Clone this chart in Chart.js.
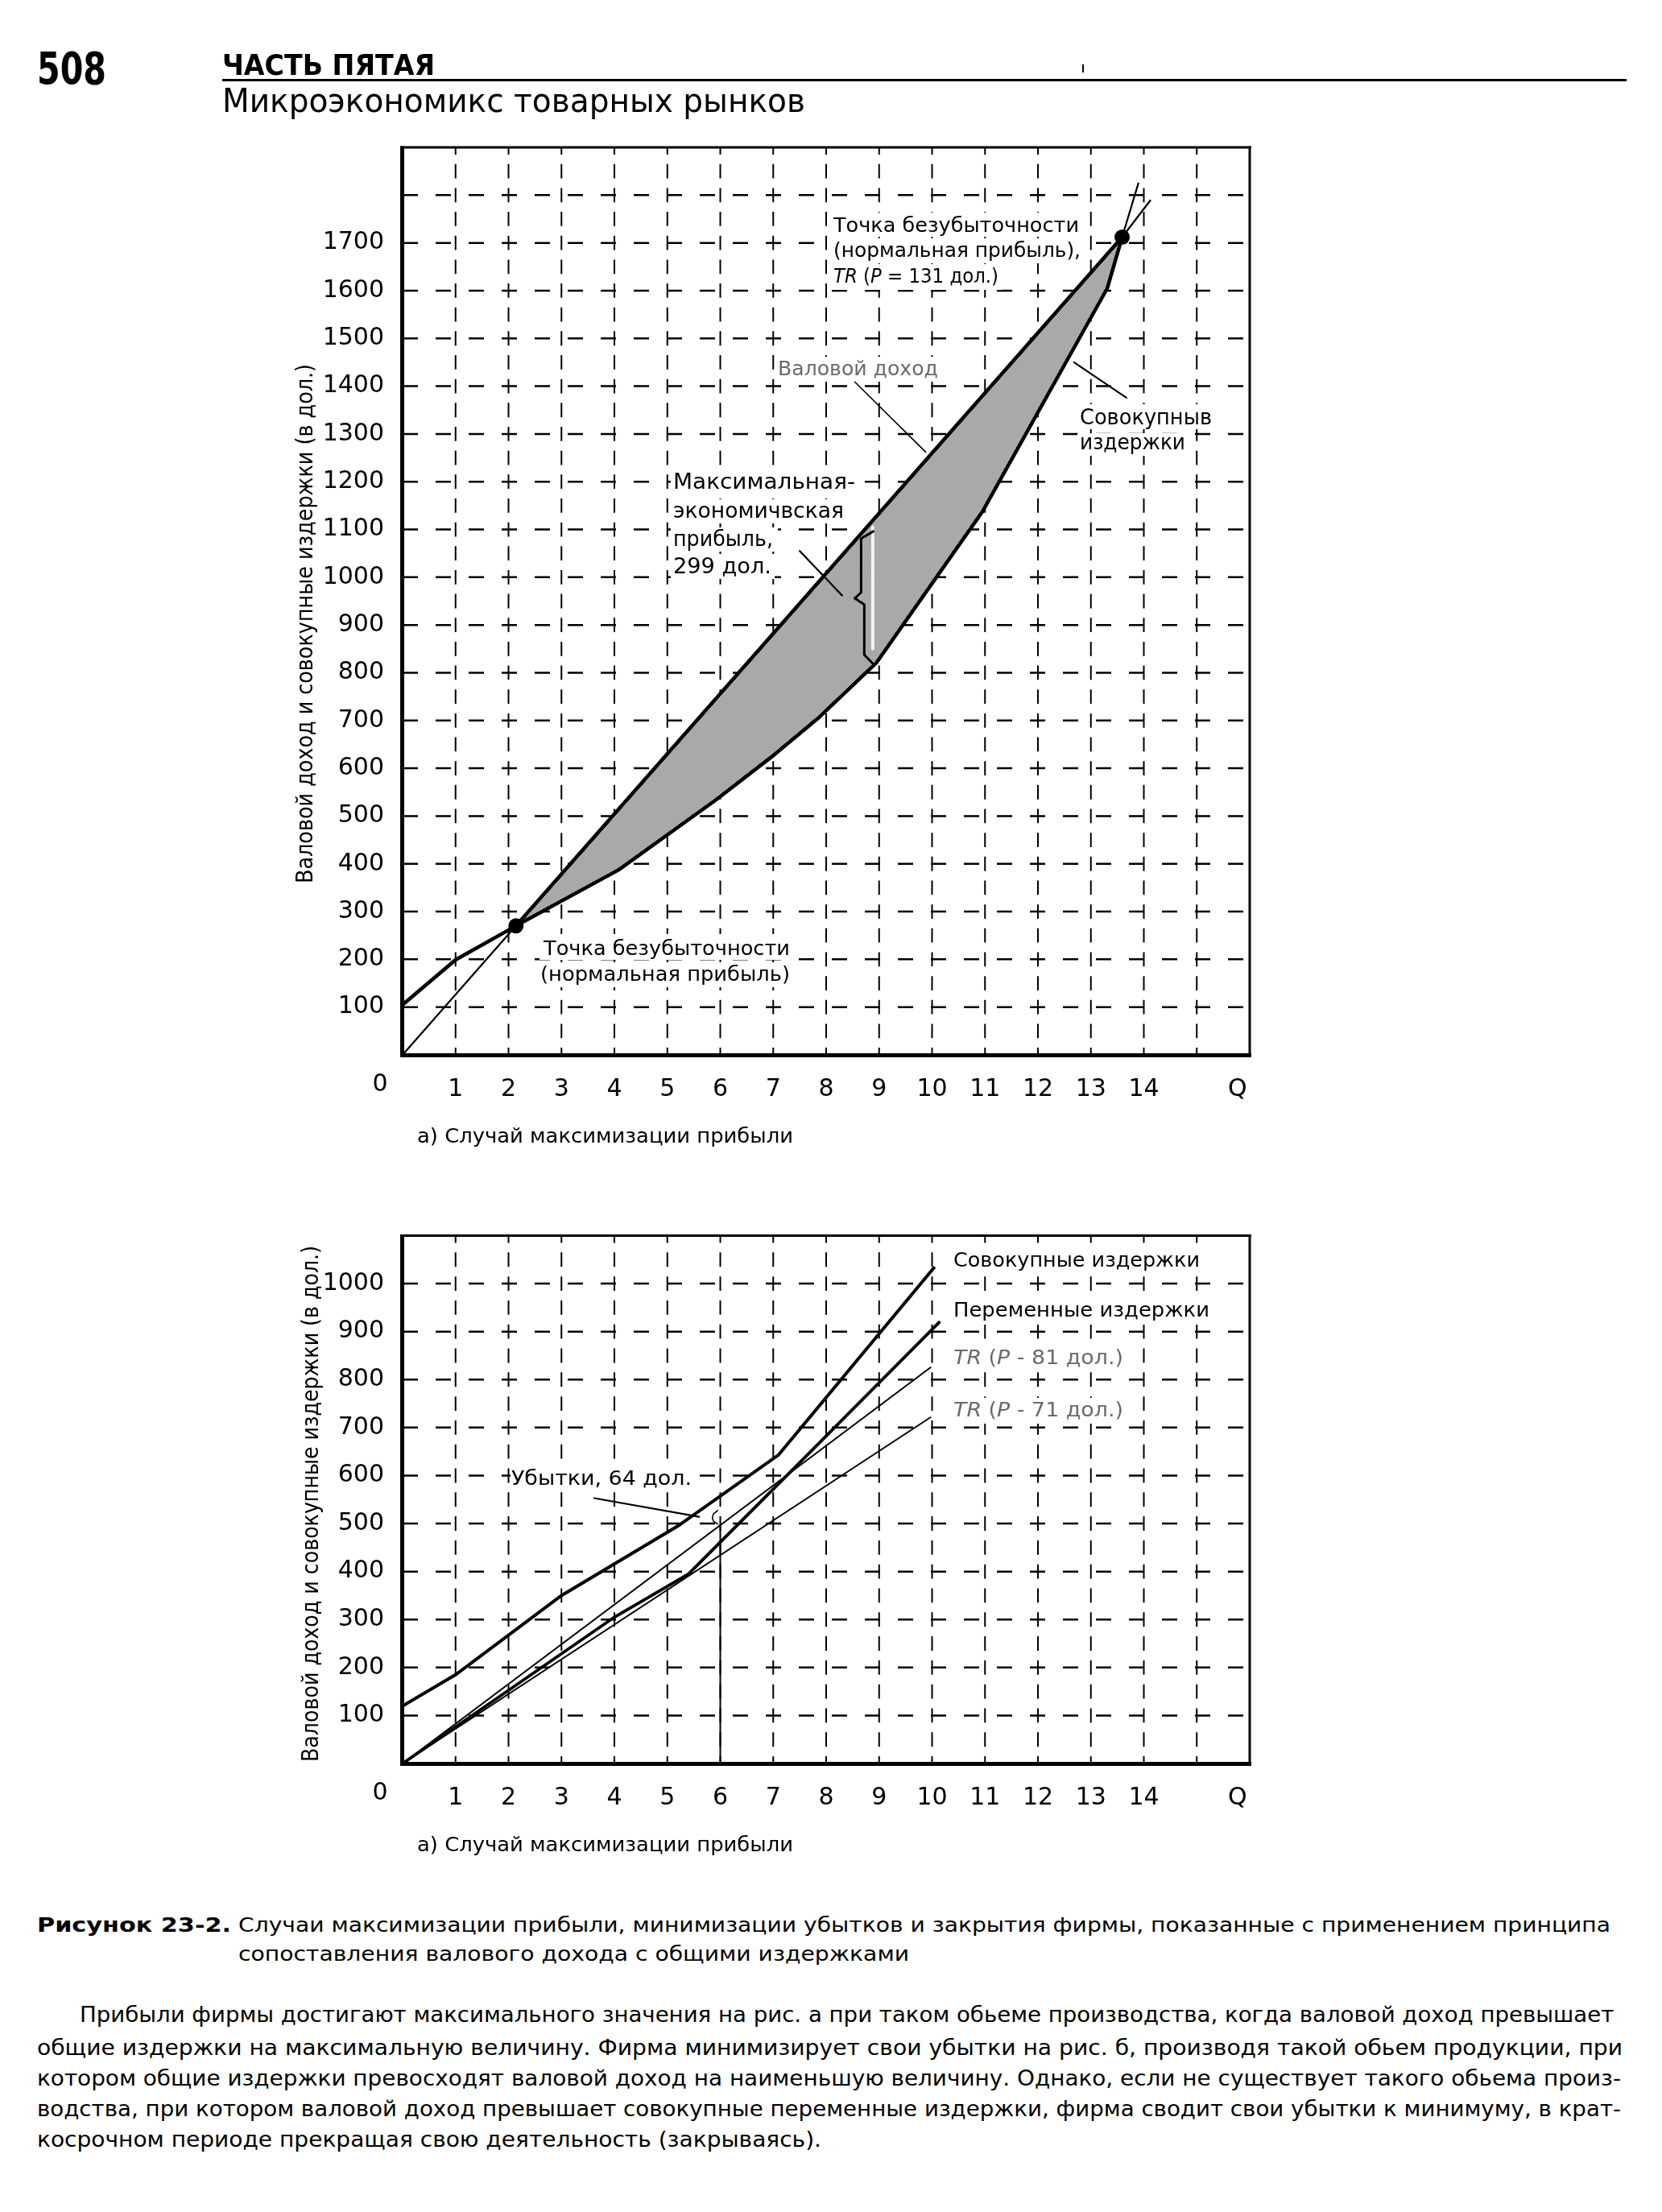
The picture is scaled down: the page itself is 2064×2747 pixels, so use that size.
<!DOCTYPE html>
<html><head><meta charset="utf-8">
<script src="https://cdn.jsdelivr.net/npm/chart.js@4.4.1/dist/chart.umd.min.js"></script>
<style>
html,body{margin:0;padding:0;background:#fff;}
body{width:2064px;height:2747px;position:relative;overflow:hidden;font-family:"DejaVu Sans",sans-serif;color:#000;}
canvas{position:absolute;left:0;}
.t{position:absolute;white-space:nowrap;transform-origin:0 0;margin:0;padding:0;}
.rule{position:absolute;background:#000;}
</style></head><body>
<canvas id="c1" width="2064" height="1460" style="top:0px;width:2064px;height:1460px"></canvas>
<canvas id="c2" width="2064" height="900" style="top:1460px;width:2064px;height:900px"></canvas>
<div class="rule" style="left:276px;top:98px;width:1744px;height:3px"></div>
<div class="rule" style="left:1344px;top:80px;width:2px;height:10px"></div>
<script>
// ---------- DATA ----------
const xTickPos    = [1,2,3,4,5,6,7,8,9,10,11,12,13,14,15.77];
const xTickLabels = ['1','2','3','4','5','6','7','8','9','10','11','12','13','14','Q'];
const gridQ       = [1,2,3,4,5,6,7,8,9,10,11,12,13,14,15];
const topYTicks   = [100,200,300,400,500,600,700,800,900,1000,1100,1200,1300,1400,1500,1600,1700];
const topGridV    = [100,200,300,400,500,600,700,800,900,1000,1100,1200,1300,1400,1500,1600,1700,1800];
const botYTicks   = [100,200,300,400,500,600,700,800,900,1000];
const botGridV    = [100,200,300,400,500,600,700,800,900,1000];

// panel a: total revenue (P = 131) and total cost
const trQ = [0, 2.14, 13.59, 14.13];
const trV = [0, 270, 1712, 1790];
const tcQ = [0, 1, 2.14, 4.09, 5.92, 6.97, 7.85, 8.95, 10.95, 13.31, 13.59, 13.9];
const tcV = [105, 199, 270, 388, 534, 624, 705, 821, 1137, 1605, 1712, 1826];
const breakEvenQ = [2.14, 13.59];
const breakEvenV = [270, 1712];

// panel b
const tc2Q  = [0, 1, 3, 5.2, 7.1, 10.05];
const tc2V  = [120, 185, 350, 495, 643, 1035];
const vcQ   = [0, 4, 5.4, 7.5, 10.15];
const vcV   = [0, 305, 395, 627, 921];
const tr81Q = [0, 9.98];
const tr81V = [0, 826];
const tr71Q = [0, 9.98];
const tr71V = [0, 722];
const lossQ = [6, 6];
const lossV = [0, 497];

// ---------- helpers ----------
const P = (qs, vs) => qs.map((q, i) => ({x: q, y: vs[i]}));
const FAM = '"DejaVu Sans"';
const mc = document.createElement('canvas').getContext('2d');

function placeText(o){
  const el = document.createElement('div');
  el.className = 't';
  el.textContent = o.text;
  const font = (o.bold ? 'bold ' : '') + o.size + 'px ' + FAM;
  el.style.font = font;
  el.style.lineHeight = o.size + 'px';
  mc.font = font;
  const m = mc.measureText(o.text);
  const A = m.fontBoundingBoxAscent, D = m.fontBoundingBoxDescent;
  const off = (o.size - (A + D)) / 2 + A;
  el.style.left = o.x + 'px';
  el.style.top = (o.base - off) + 'px';
  const k = o.w ? o.w / m.width : 1;
  el.style.transform = 'scaleX(' + k + ')';
  document.body.appendChild(el);
}

function fitRuns(ctx, runs, x, base, w, size, color, bold){
  let total = 0;
  const parts = runs.map(r => {
    const f = (r[1] ? 'italic ' : '') + (bold ? 'bold ' : '') + size + 'px ' + FAM;
    ctx.font = f;
    const wd = ctx.measureText(r[0]).width;
    total += wd;
    return {t: r[0], f, wd};
  });
  const k = w ? w / total : 1;
  ctx.save();
  ctx.translate(x, base);
  ctx.scale(k, 1);
  ctx.fillStyle = color || '#000';
  ctx.textBaseline = 'alphabetic';
  ctx.textAlign = 'left';
  let cx = 0;
  for (const p of parts){ ctx.font = p.f; ctx.fillText(p.t, cx, 0); cx += p.wd; }
  ctx.restore();
}

function vertTitle(ctx, text, cx, cy, len, size){
  ctx.save();
  ctx.font = size + 'px ' + FAM;
  const w = ctx.measureText(text).width;
  const cap = size * 0.73;
  ctx.translate(cx + cap / 2, cy);
  ctx.rotate(-Math.PI / 2);
  ctx.scale(len / w, 1);
  ctx.fillStyle = '#000';
  ctx.textAlign = 'center';
  ctx.textBaseline = 'alphabetic';
  ctx.fillText(text, 0, 0);
  ctx.restore();
}

function makePlugin(cfg){
  return {
    id: 'deco' + cfg.id,
    beforeDatasetsDraw(chart){
      const {ctx, chartArea: a, scales: {x, y}} = chart;
      ctx.save();
      ctx.strokeStyle = '#000';
      const rowH = y.getPixelForValue(0) - y.getPixelForValue(100);
      const vd = rowH / 2;
      ctx.lineWidth = 2;
      ctx.setLineDash([vd * 0.6, vd * 0.4]);
      ctx.lineDashOffset = vd * 0.3;
      for (const q of gridQ){
        const px = x.getPixelForValue(q);
        ctx.beginPath(); ctx.moveTo(px, a.top); ctx.lineTo(px, a.bottom); ctx.stroke();
      }
      ctx.lineWidth = 2.5;
      ctx.setLineDash([19, 22]);
      ctx.lineDashOffset = 0;
      for (const v of cfg.gridV){
        const py = y.getPixelForValue(v);
        ctx.beginPath(); ctx.moveTo(a.left, py); ctx.lineTo(a.right, py); ctx.stroke();
      }
      ctx.setLineDash([]);
      ctx.fillStyle = '#fff';
      for (const b of cfg.boxes) ctx.fillRect(b[0], b[1] - cfg.oy, b[2] - b[0], b[3] - b[1]);
      ctx.restore();
    },
    afterDatasetsDraw(chart){
      const {ctx, chartArea: a, scales: {x, y}} = chart;
      ctx.save();
      ctx.lineCap = 'round';
      ctx.lineJoin = 'round';
      for (const l of cfg.leaders){
        ctx.strokeStyle = l.c || '#000';
        ctx.lineWidth = l.w;
        ctx.beginPath();
        l.pts.forEach((p, i) => {
          const px = x.getPixelForValue(p[0]), py = y.getPixelForValue(p[1]);
          if (i) ctx.lineTo(px, py); else ctx.moveTo(px, py);
        });
        ctx.stroke();
      }
      ctx.restore();
      for (const t of cfg.texts) fitRuns(ctx, t.runs, t.x, t.b - cfg.oy, t.w, t.s, t.c);
      // frame
      ctx.save();
      ctx.fillStyle = '#000';
      ctx.fillRect(a.left - 3, a.top - 1.5, 5, a.bottom - a.top + 4);        // left
      ctx.fillRect(a.left - 3, a.bottom - 2, a.right - a.left + 5, 5);       // bottom
      ctx.fillRect(a.left - 3, a.top - 1.5, a.right - a.left + 5, 3);        // top
      ctx.fillRect(a.right - 1.5, a.top - 1.5, 3, a.bottom - a.top + 3);     // right
      ctx.restore();
      vertTitle(ctx, 'Валовой доход и совокупные издержки (в дол.)', cfg.title.cx, cfg.title.cy - cfg.oy, cfg.title.len, 28);
      fitRuns(ctx, [['а) Случай максимизации прибыли']], 518, cfg.subBase - cfg.oy, 467, 25, '#000');
      ctx.save();
      ctx.font = '30px ' + FAM;
      ctx.fillStyle = '#000';
      ctx.textAlign = 'center';
      ctx.textBaseline = 'alphabetic';
      ctx.fillText('0', 472, a.bottom + 45);
      ctx.restore();
    }
  };
}

function axisOpts(max, yTicks){
  const font = {family: 'DejaVu Sans', size: 30};
  return {
    x: {type: 'linear', min: 0, max: 16, grid: {display: false}, border: {display: false},
        afterBuildTicks: s => { s.ticks = xTickPos.map(v => ({value: v})); },
        afterFit: s => { s.height = 60; },
        ticks: {autoSkip: false, maxRotation: 0, minRotation: 0, padding: 17, color: '#000', font,
                callback: (v, i) => xTickLabels[i]}},
    y: {type: 'linear', min: 0, max: max, grid: {display: false}, border: {display: false},
        afterBuildTicks: s => { s.ticks = yTicks.map(v => ({value: v})); },
        afterFit: s => { s.width = 100; },
        ticks: {autoSkip: false, padding: 15, color: '#000', font, callback: v => String(v)}}
  };
}

// shading pattern (fine halftone)
const pc = document.createElement('canvas'); pc.width = 2; pc.height = 2;
const pg = pc.getContext('2d');
pg.fillStyle = '#ececec'; pg.fillRect(0, 0, 2, 2);
pg.fillStyle = '#666666'; pg.fillRect(0, 0, 1, 1); pg.fillRect(1, 1, 1, 1);
const shade = pg.createPattern(pc, 'repeat');

const i1 = tcQ.indexOf(breakEvenQ[0]), i2 = tcQ.indexOf(breakEvenQ[1]);
const base = {borderColor: '#000', pointRadius: 0, tension: 0, fill: false};

// ---------- chart a ----------
const topCfg = {
  id: 1, oy: 0, gridV: topGridV, subBase: 1419,
  title: {cx: 378, cy: 774.5, len: 645},
  boxes: [[1030,264,1345,294],[1030,296,1347,327],[1030,328,1245,360],
          [964,443,1170,474],
          [1338,502,1508,533],[1338,538,1476,566],
          [833,582,1066,613],[833,620,1052,650],[833,655,966,685],[833,688,962,719],
          [670,1160,985,1192],[668,1195,985,1226]],
  leaders: [
    {pts: [[8.88,850],[8.88,1105]], w: 4, c: '#f4f4f4'},
    {pts: [[8.54,1409],[9.88,1262]], w: 1.6},
    {pts: [[12.68,1450],[13.67,1376]], w: 2.2},
    {pts: [[7.5,1055],[8.3,962]], w: 2.2},
    {pts: [[8.89,1096],[8.66,1081],[8.66,968],[8.54,956],[8.72,943],[8.72,838],[8.89,818]], w: 3}
  ],
  texts: [
    {runs: [['Точка безубыточности']], x: 1035, b: 288, w: 305, s: 25},
    {runs: [['(нормальная прибыль),']], x: 1035, b: 319, w: 307, s: 25},
    {runs: [['TR',1],[' (',0],['P',1],[' = 131 дол.)',0]], x: 1035, b: 351, w: 205, s: 25},
    {runs: [['Валовой доход']], x: 966, b: 466, w: 199, s: 24, c: '#6a6a6a'},
    {runs: [['Совокупныв']], x: 1341, b: 527, w: 164, s: 26},
    {runs: [['издержки']], x: 1341, b: 558, w: 131, s: 26},
    {runs: [['Максимальная-']], x: 836, b: 607, w: 226, s: 26},
    {runs: [['экономичвская']], x: 836, b: 643, w: 212, s: 26},
    {runs: [['прибыль,']], x: 836, b: 678, w: 124, s: 26},
    {runs: [['299 дол.']], x: 836, b: 712, w: 122, s: 26},
    {runs: [['Точка безубыточности']], x: 675, b: 1186, w: 306, s: 25},
    {runs: [['(нормальная прибыль)']], x: 671, b: 1218, w: 310, s: 25}
  ]
};

new Chart(document.getElementById('c1'), {
  type: 'line',
  data: {datasets: [
    {...base, label: 'TR (P = 131)', data: P(trQ, trV), borderWidth: 2.2},
    {...base, label: 'TC (profit zone)', data: P(tcQ.slice(i1, i2 + 1), tcV.slice(i1, i2 + 1)), borderWidth: 4.5},
    {...base, label: 'TR (profit zone)', data: P(trQ.slice(1, 3), trV.slice(1, 3)), borderWidth: 4.5, fill: 1, backgroundColor: shade},
    {...base, label: 'TC (start)', data: P(tcQ.slice(0, i1 + 1), tcV.slice(0, i1 + 1)), borderWidth: 4.5},
    {...base, label: 'TC (end)', data: P(tcQ.slice(i2), tcV.slice(i2)), borderWidth: 2.2},
    {...base, label: 'break-even', data: P(breakEvenQ, breakEvenV), showLine: false, pointRadius: 9.5,
     pointBackgroundColor: '#000', pointBorderWidth: 0, order: -1}
  ]},
  options: {
    responsive: false, animation: false, devicePixelRatio: 1,
    layout: {padding: {left: 400, right: 512, top: 183, bottom: 90}},
    plugins: {legend: {display: false}, tooltip: {enabled: false}},
    scales: axisOpts(1900, topYTicks)
  },
  plugins: [makePlugin(topCfg)]
});

// ---------- chart b ----------
const botCfg = {
  id: 2, oy: 1460, gridV: botGridV, subBase: 2299,
  title: {cx: 385, cy: 1867.5, len: 641},
  boxes: [[1180,1549,1496,1581],[1180,1612,1508,1645],[1180,1671,1400,1703],[1180,1736,1400,1768],
          [634,1820,862,1852]],
  leaders: [
    {pts: [[3.62,553],[5.6,514]], w: 2.2},
    {pts: [[5.95,527],[5.87,520],[5.85,512],[5.87,505],[5.95,499]], w: 1.6}
  ],
  texts: [
    {runs: [['Совокупные издержки']], x: 1184, b: 1573, w: 306, s: 25},
    {runs: [['Переменные издержки']], x: 1184, b: 1635, w: 318, s: 25},
    {runs: [['TR',1],[' (',0],['P',1],[' - 81 дол.)',0]], x: 1184, b: 1694, w: 211, s: 25, c: '#6a6a6a'},
    {runs: [['TR',1],[' (',0],['P',1],[' - 71 дол.)',0]], x: 1184, b: 1759, w: 211, s: 25, c: '#6a6a6a'},
    {runs: [['Убытки, 64 дол.']], x: 635, b: 1844, w: 224, s: 25}
  ]
};

new Chart(document.getElementById('c2'), {
  type: 'line',
  data: {datasets: [
    {...base, label: 'Совокупные издержки', data: P(tc2Q, tc2V), borderWidth: 4},
    {...base, label: 'Переменные издержки', data: P(vcQ, vcV), borderWidth: 3.8},
    {...base, label: 'TR (P = 81)', data: P(tr81Q, tr81V), borderWidth: 2},
    {...base, label: 'TR (P = 71)', data: P(tr71Q, tr71V), borderWidth: 2},
    {...base, label: 'loss at Q = 6', data: P(lossQ, lossV), borderWidth: 2}
  ]},
  options: {
    responsive: false, animation: false, devicePixelRatio: 1,
    layout: {padding: {left: 400, right: 512, top: 74.5, bottom: 110}},
    plugins: {legend: {display: false}, tooltip: {enabled: false}},
    scales: axisOpts(1100, botYTicks)
  },
  plugins: [makePlugin(botCfg)]
});

// ---------- page text ----------
[
  {text: '508', x: 46, base: 104, w: 86, size: 56, bold: true},
  {text: 'ЧАСТЬ ПЯТАЯ', x: 276, base: 93, w: 264, size: 36, bold: true},
  {text: 'Микроэкономикс товарных рынков', x: 276, base: 139, w: 724, size: 40},
  {text: 'Рисунок 23-2.', x: 46, base: 2399, w: 241, size: 24, bold: true},
  {text: 'Случаи максимизации прибыли, минимизации убытков и закрытия фирмы, показанные с применением принципа', x: 296, base: 2399, w: 1704, size: 24},
  {text: 'сопоставления валового дохода с общими издержками', x: 296, base: 2435, w: 833, size: 24},
  {text: 'Прибыли фирмы достигают максимального значения на рис.  а при таком обьеме производства, когда валовой доход превышает', x: 99, base: 2511, w: 1914, size: 27},
  {text: 'общие издержки на максимальную величину. Фирма минимизирует свои убытки на рис. б, производя такой обьем продукции, при', x: 46, base: 2552, w: 1969, size: 27},
  {text: 'котором общие издержки превосходят валовой доход на наименьшую величину. Однако, если не существует такого обьема произ-', x: 46, base: 2590, w: 1967, size: 27},
  {text: 'водства, при котором валовой доход превышает совокупные переменные издержки, фирма сводит свои убытки к минимуму, в крат-', x: 46, base: 2628, w: 1967, size: 27},
  {text: 'косрочном периоде прекращая свою деятельность (закрываясь).', x: 46, base: 2666, w: 974, size: 27}
].forEach(placeText);
</script>
</body></html>
